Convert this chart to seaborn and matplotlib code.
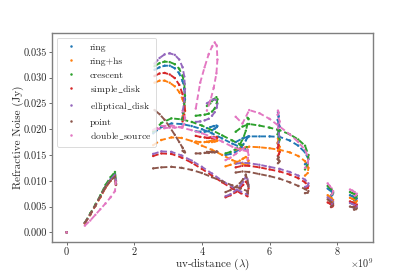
import numpy as np
import pandas as pd
import matplotlib
matplotlib.use("Agg")
import matplotlib.pyplot as plt
from matplotlib.lines import Line2D
import seaborn as sns

models = ["ring", "ring+hs", "crescent", "simple_disk", "elliptical_disk", "point", "double_source"]

# uv-distance along each baseline track (units of 1e9 lambda); noise per model (Jy)
x_t0 = [0.0]
y_t0 = {m: [0.0] for m in models}

x_t1 = [0.54, 0.70, 0.85, 1.00, 1.15, 1.30, 1.43, 1.46]
y_t1 = {
    "ring":            [0.0018, 0.0035, 0.0052, 0.0070, 0.0088, 0.0103, 0.0113, 0.0095],
    "ring+hs":         [0.0017, 0.0034, 0.0051, 0.0068, 0.0086, 0.0100, 0.0110, 0.0092],
    "crescent":        [0.0019, 0.0037, 0.0054, 0.0072, 0.0092, 0.0107, 0.0117, 0.0099],
    "simple_disk":     [0.0018, 0.0035, 0.0052, 0.0069, 0.0087, 0.0101, 0.0110, 0.0093],
    "elliptical_disk": [0.0018, 0.0035, 0.0052, 0.0070, 0.0088, 0.0102, 0.0112, 0.0095],
    "point":           [0.0018, 0.0035, 0.0052, 0.0070, 0.0088, 0.0100, 0.0108, 0.0092],
    "double_source":   [0.0013, 0.0023, 0.0034, 0.0045, 0.0056, 0.0068, 0.0080, 0.0100],
}

x_t2 = [2.60, 2.75, 2.90, 3.05, 3.20, 3.33, 3.43, 3.48, 3.50, 3.47, 3.43]
y_t2 = {
    "ring":            [0.0315, 0.0320, 0.0323, 0.0323, 0.0318, 0.0308, 0.0293, 0.0278, 0.0258, 0.0236, 0.0220],
    "ring+hs":         [0.0290, 0.0294, 0.0294, 0.0290, 0.0283, 0.0272, 0.0258, 0.0246, 0.0235, 0.0228, 0.0225],
    "crescent":        [0.0322, 0.0328, 0.0331, 0.0330, 0.0326, 0.0317, 0.0303, 0.0288, 0.0265, 0.0240, 0.0222],
    "simple_disk":     [0.0303, 0.0308, 0.0309, 0.0306, 0.0299, 0.0286, 0.0268, 0.0252, 0.0236, 0.0222, 0.0215],
    "elliptical_disk": [0.0327, 0.0338, 0.0345, 0.0347, 0.0344, 0.0335, 0.0320, 0.0302, 0.0278, 0.0250, 0.0232],
    "point":           [0.0237, 0.0229, 0.0218, 0.0204, 0.0189, 0.0175, 0.0164, 0.0158, 0.0155, 0.0156, 0.0158],
    "double_source":   [0.0200, 0.0201, 0.0202, 0.0203, 0.0203, 0.0204, 0.0205, 0.0210, 0.0222, 0.0232, 0.0236],
}

x_t3 = [2.56, 2.80, 3.10, 3.40, 3.70, 4.00, 4.30, 4.60, 4.90, 5.15, 5.35]
y_t3 = {
    "ring":            [0.0192, 0.0204, 0.0211, 0.0210, 0.0206, 0.0200, 0.0192, 0.0182, 0.0172, 0.0165, 0.0160],
    "ring+hs":         [0.0169, 0.0179, 0.0184, 0.0183, 0.0177, 0.0168, 0.0160, 0.0150, 0.0140, 0.0134, 0.0130],
    "crescent":        [0.0195, 0.0212, 0.0221, 0.0219, 0.0214, 0.0207, 0.0198, 0.0188, 0.0178, 0.0170, 0.0165],
    "simple_disk":     [0.0148, 0.0153, 0.0152, 0.0145, 0.0135, 0.0123, 0.0110, 0.0097, 0.0085, 0.0076, 0.0070],
    "elliptical_disk": [0.0152, 0.0157, 0.0156, 0.0149, 0.0139, 0.0127, 0.0114, 0.0100, 0.0088, 0.0079, 0.0073],
    "point":           [0.0124, 0.0126, 0.0127, 0.0125, 0.0121, 0.0115, 0.0107, 0.0099, 0.0091, 0.0085, 0.0080],
    "double_source":   [0.0198, 0.0206, 0.0207, 0.0203, 0.0198, 0.0192, 0.0185, 0.0176, 0.0166, 0.0160, 0.0157],
}

x_t4 = [3.82, 3.95, 4.08, 4.20, 4.30, 4.38, 4.44, 4.46, 4.43, 4.35, 4.25, 4.15]
y_t4 = {
    "ring":            [0.0196, 0.0195, 0.0195, 0.0196, 0.0198, 0.0201, 0.0204, 0.0206, 0.0207, 0.0206, 0.0204, 0.0202],
    "ring+hs":         [0.0176, 0.0175, 0.0175, 0.0175, 0.0175, 0.0176, 0.0177, 0.0178, 0.0179, 0.0178, 0.0177, 0.0176],
    "crescent":        [0.0226, 0.0227, 0.0228, 0.0230, 0.0234, 0.0240, 0.0250, 0.0258, 0.0262, 0.0258, 0.0250, 0.0245],
    "simple_disk":     [0.0187, 0.0185, 0.0184, 0.0183, 0.0182, 0.0182, 0.0183, 0.0184, 0.0185, 0.0185, 0.0184, 0.0183],
    "elliptical_disk": [0.0214, 0.0215, 0.0217, 0.0220, 0.0226, 0.0233, 0.0242, 0.0250, 0.0256, 0.0258, 0.0255, 0.0250],
    "point":           [0.0153, 0.0153, 0.0154, 0.0154, 0.0155, 0.0155, 0.0156, 0.0156, 0.0157, 0.0157, 0.0156, 0.0156],
    "double_source":   [0.0240, 0.0290, 0.0320, 0.0345, 0.0360, 0.0368, 0.0362, 0.0335, 0.0308, 0.0280, 0.0255, 0.0236],
}

x_t5 = [4.70, 4.85, 5.00, 5.12, 5.22, 5.30, 5.35, 5.38, 5.35]
y_t5 = {
    "ring":            [0.0150, 0.0152, 0.0156, 0.0162, 0.0170, 0.0178, 0.0184, 0.0186, 0.0185],
    "ring+hs":         [0.0128, 0.0131, 0.0135, 0.0139, 0.0143, 0.0146, 0.0144, 0.0139, 0.0132],
    "crescent":        [0.0153, 0.0156, 0.0161, 0.0170, 0.0182, 0.0197, 0.0210, 0.0220, 0.0222],
    "simple_disk":     [0.0068, 0.0072, 0.0078, 0.0085, 0.0092, 0.0098, 0.0094, 0.0085, 0.0076],
    "elliptical_disk": [0.0070, 0.0074, 0.0081, 0.0089, 0.0098, 0.0108, 0.0103, 0.0092, 0.0080],
    "point":           [0.0078, 0.0082, 0.0088, 0.0095, 0.0103, 0.0112, 0.0100, 0.0088, 0.0075],
    "double_source":   [0.0140, 0.0145, 0.0152, 0.0158, 0.0163, 0.0165, 0.0160, 0.0150, 0.0140],
}

x_t6 = [5.00, 5.20, 5.40, 5.70, 6.00, 6.30, 6.60, 6.85, 7.05, 7.15, 7.13, 7.05]
y_t6 = {
    "ring":            [0.0175, 0.0182, 0.0186, 0.0186, 0.0186, 0.0185, 0.0178, 0.0168, 0.0155, 0.0142, 0.0135, 0.0132],
    "ring+hs":         [0.0160, 0.0164, 0.0166, 0.0165, 0.0163, 0.0160, 0.0155, 0.0148, 0.0138, 0.0125, 0.0115, 0.0110],
    "crescent":        [0.0195, 0.0205, 0.0210, 0.0207, 0.0203, 0.0198, 0.0190, 0.0180, 0.0168, 0.0150, 0.0133, 0.0122],
    "simple_disk":     [0.0126, 0.0129, 0.0129, 0.0126, 0.0122, 0.0118, 0.0112, 0.0105, 0.0097, 0.0090, 0.0086, 0.0085],
    "elliptical_disk": [0.0133, 0.0135, 0.0134, 0.0131, 0.0127, 0.0123, 0.0117, 0.0110, 0.0102, 0.0095, 0.0090, 0.0088],
    "point":           [0.0116, 0.0118, 0.0117, 0.0113, 0.0109, 0.0104, 0.0097, 0.0090, 0.0084, 0.0080, 0.0077, 0.0076],
    "double_source":   [0.0224, 0.0211, 0.0237, 0.0231, 0.0220, 0.0205, 0.0190, 0.0175, 0.0160, 0.0145, 0.0130, 0.0125],
}

x_t7 = [6.25, 6.27, 6.24, 6.27, 6.30, 6.28, 6.25]
y_t7 = {
    "ring":            [0.0233, 0.0225, 0.0218, 0.0212, 0.0205, 0.0196, 0.0190],
    "ring+hs":         [0.0182, 0.0178, 0.0174, 0.0170, 0.0166, 0.0162, 0.0158],
    "crescent":        [0.0200, 0.0195, 0.0190, 0.0185, 0.0180, 0.0176, 0.0172],
    "simple_disk":     [0.0172, 0.0168, 0.0164, 0.0160, 0.0156, 0.0152, 0.0148],
    "elliptical_disk": [0.0210, 0.0204, 0.0198, 0.0192, 0.0185, 0.0178, 0.0172],
    "point":           [0.0148, 0.0145, 0.0142, 0.0140, 0.0138, 0.0136, 0.0134],
    "double_source":   [0.0236, 0.0232, 0.0228, 0.0222, 0.0215, 0.0208, 0.0200],
}

x_t8 = [7.72, 7.78, 7.84, 7.88, 7.86, 7.82]
y_t8 = {
    "ring":            [0.0085, 0.0082, 0.0079, 0.0076, 0.0073, 0.0070],
    "ring+hs":         [0.0072, 0.0069, 0.0066, 0.0063, 0.0060, 0.0058],
    "crescent":        [0.0090, 0.0086, 0.0082, 0.0078, 0.0075, 0.0072],
    "simple_disk":     [0.0058, 0.0056, 0.0054, 0.0052, 0.0050, 0.0049],
    "elliptical_disk": [0.0068, 0.0065, 0.0062, 0.0059, 0.0056, 0.0054],
    "point":           [0.0064, 0.0061, 0.0058, 0.0055, 0.0052, 0.0050],
    "double_source":   [0.0095, 0.0090, 0.0085, 0.0080, 0.0075, 0.0072],
}

x_t9 = [8.38, 8.45, 8.52, 8.58, 8.56, 8.50]
y_t9 = {
    "ring":            [0.0072, 0.0070, 0.0068, 0.0066, 0.0064, 0.0062],
    "ring+hs":         [0.0067, 0.0065, 0.0063, 0.0061, 0.0059, 0.0058],
    "crescent":        [0.0078, 0.0076, 0.0074, 0.0071, 0.0068, 0.0066],
    "simple_disk":     [0.0060, 0.0058, 0.0056, 0.0054, 0.0052, 0.0050],
    "elliptical_disk": [0.0057, 0.0055, 0.0053, 0.0051, 0.0049, 0.0047],
    "point":           [0.0050, 0.0049, 0.0048, 0.0047, 0.0045, 0.0044],
    "double_source":   [0.0083, 0.0081, 0.0078, 0.0075, 0.0072, 0.0070],
}

tracks = [(x_t0, y_t0), (x_t1, y_t1), (x_t2, y_t2), (x_t3, y_t3), (x_t4, y_t4),
          (x_t5, y_t5), (x_t6, y_t6), (x_t7, y_t7), (x_t8, y_t8), (x_t9, y_t9)]

rows = []
for ti, (xs, ys) in enumerate(tracks):
    for m in models:
        for k, (xv, yv) in enumerate(zip(xs, ys[m])):
            rows.append({"model": m, "track": ti, "order": k, "uv": xv * 1e9, "noise": yv})
df = pd.DataFrame(rows)
df["model"] = pd.Categorical(df["model"], categories=models, ordered=True)

sns.set_style("white")
plt.rcParams["font.family"] = ["serif"]
plt.rcParams["font.serif"] = ["cmr10", "DejaVu Serif"]
plt.rcParams["mathtext.fontset"] = "cm"
plt.rcParams["axes.formatter.use_mathtext"] = True

palette = sns.color_palette("tab10", 7)

fig = plt.figure(figsize=(4.15, 2.77), dpi=100)
ax = fig.add_axes([0.1246, 0.125, 0.775, 0.757])

sns.lineplot(data=df, x="uv", y="noise", hue="model", hue_order=models, palette=palette,
             units="track", estimator=None, sort=False, legend=False, ax=ax,
             linewidth=1.35, linestyle=(0, (3.0, 1.6)))
sns.scatterplot(data=df, x="uv", y="noise", hue="model", hue_order=models, palette=palette,
                s=3, linewidth=0, legend=False, ax=ax)

ax.set_xlim(-0.44e9, 9.07e9)
ax.set_ylim(-0.00194, 0.0387)
ax.set_xticks([0, 2e9, 4e9, 6e9, 8e9])
ax.set_xticklabels(["0", "2", "4", "6", "8"])
ax.set_yticks([0.0, 0.005, 0.010, 0.015, 0.020, 0.025, 0.030, 0.035])
ax.set_yticklabels(["0.000", "0.005", "0.010", "0.015", "0.020", "0.025", "0.030", "0.035"])
ax.tick_params(labelsize=7.4, length=2.0, width=0.6, color="#555555", pad=1.5, bottom=True, left=True)
ax.text(1.0, -0.068, r"$\times10^{9}$", transform=ax.transAxes, ha="right", va="top", fontsize=7.2)
ax.set_xlabel(r"uv-distance ($\lambda$)", fontsize=8)
ax.set_ylabel("Refractive Noise (Jy)", fontsize=8)
ax.xaxis.set_label_coords(0.5, -0.068)
ax.yaxis.set_label_coords(-0.085, 0.5)
for sp in ax.spines.values():
    sp.set_color("#7f7f7f")
    sp.set_linewidth(1.0)

legend_labels = [m.replace("_", r"$\_$") for m in models]
handles = [Line2D([], [], linestyle="none", marker="o", markersize=1.8,
                  markerfacecolor=palette[i], markeredgewidth=0) for i in range(7)]
leg = ax.legend(handles, legend_labels, loc="upper left", fontsize=7.0, frameon=True,
                handlelength=2.0, handleheight=1.15, handletextpad=1.0, labelspacing=0.38,
                borderpad=0.45, borderaxespad=0.5)
leg.get_frame().set_edgecolor("#cccccc")
leg.get_frame().set_linewidth(0.6)

fig.savefig("out.png", dpi=100)
